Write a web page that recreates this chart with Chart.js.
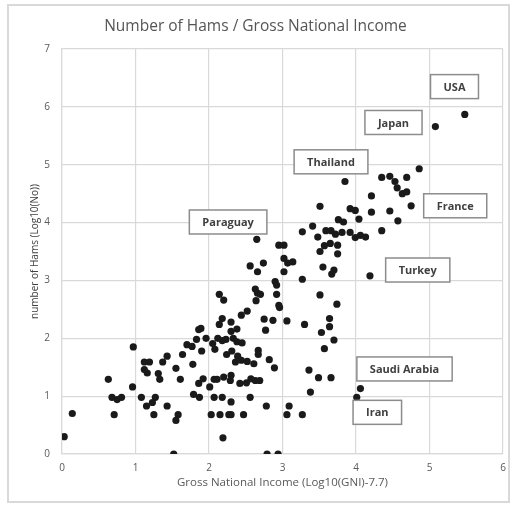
<!DOCTYPE html>
<html>
<head>
<meta charset="utf-8">
<script src="https://cdn.jsdelivr.net/npm/chart.js@4/dist/chart.umd.min.js"></script>
<style>
  html, body { margin: 0; padding: 0; background: #ffffff; }
  #wrap { width: 514px; height: 505px; position: relative; }
</style>
</head>
<body>
<div id="wrap"><canvas id="c" width="514" height="505"></canvas></div>
<script>
// Gross National Income (log10(GNI) - 7.7) per country
const gniLog = [
  0.03, 0.14, 0.63, 0.68, 0.75, 0.81, 0.71, 0.97, 0.96, 1.08,
  1.12, 1.19, 1.12, 1.16, 1.15, 1.23, 1.27, 1.25, 1.31, 1.33,
  1.37, 1.43, 1.43, 1.55, 1.61, 1.58, 1.55, 1.64, 1.70, 1.77,
  1.83, 1.78, 1.79, 1.86, 1.86, 1.52, 1.87,
  2.20, 2.64, 2.95, 2.96, 3.74, 2.52, 2.44, 2.18, 2.14, 2.30,
  2.30, 2.38, 2.75, 2.87, 2.77, 3.06, 3.30, 3.64, 3.64, 3.53,
  3.70, 3.57, 1.89, 1.96, 2.05, 2.12, 2.18, 2.23, 2.08, 1.90,
  2.33, 2.38, 2.45, 2.31, 2.24, 2.39, 2.36, 2.44, 2.52, 2.61,
  2.67, 2.67, 2.82, 2.89, 1.92, 2.01, 2.07, 2.11, 2.20, 2.30,
  2.29, 2.42, 2.51, 2.57, 2.63, 2.69, 2.07, 2.18, 2.30, 2.56,
  3.36, 3.49, 3.66, 3.38, 2.78, 3.09, 2.03, 2.15, 2.27, 2.30,
  2.47, 3.06, 3.27, 2.19, 2.79, 2.94,
  2.65, 2.95, 3.02, 3.02, 3.07, 3.14, 2.56, 2.74, 2.66, 3.02,
  3.27, 3.41, 3.51, 3.48, 3.59, 3.66, 3.72, 3.76, 3.57, 3.65,
  3.75, 3.51, 3.75, 3.55, 3.70, 3.67, 3.27, 2.90, 2.92, 2.14,
  2.63, 2.66, 2.70, 2.92, 3.51,
  3.85, 4.86, 4.35, 4.46, 4.53, 4.69, 4.56, 4.63, 4.69, 4.21,
  4.75, 3.92, 3.99, 4.21, 4.46, 4.04, 4.57, 3.83, 3.81, 3.92,
  3.99, 4.06, 4.13, 4.35, 4.19, 5.48, 5.08, 4.06, 4.01
];

// Number of amateur radio operators (log10(No)) per country
const hamsLog = [
  0.30, 0.70, 1.29, 0.98, 0.94, 0.98, 0.68, 1.85, 1.16, 0.98,
  1.59, 1.59, 1.46, 1.40, 0.83, 0.89, 0.98, 0.68, 1.39, 1.29,
  1.59, 1.69, 0.83, 1.48, 1.29, 0.68, 0.58, 1.72, 1.89, 1.86,
  1.98, 1.55, 1.03, 2.15, 1.22, 0.00, 0.98,
  2.66, 2.65, 2.57, 2.53, 2.59, 2.47, 2.40, 2.34, 2.24, 2.28,
  2.12, 2.16, 2.33, 2.31, 2.14, 2.30, 2.24, 2.34, 2.20, 2.10,
  1.97, 1.82, 2.17, 2.00, 1.91, 2.00, 1.96, 1.98, 1.81, 1.78,
  2.00, 1.94, 1.92, 1.78, 1.72, 1.69, 1.59, 1.62, 1.60, 1.56,
  1.79, 1.72, 1.63, 1.49, 1.30, 1.16, 1.29, 1.29, 1.33, 1.36,
  1.27, 1.22, 1.23, 1.30, 1.27, 1.27, 0.98, 0.98, 0.90, 0.98,
  1.45, 1.32, 1.32, 1.07, 0.83, 0.83, 0.68, 0.68, 0.68, 0.68,
  0.68, 0.68, 0.68, 0.28, 0.00, 0.00,
  3.71, 3.61, 3.61, 3.38, 3.30, 3.32, 3.25, 3.30, 3.15, 3.15,
  3.84, 3.94, 4.28, 3.75, 3.86, 3.86, 3.80, 4.05, 3.60, 3.64,
  3.61, 3.50, 3.46, 3.23, 3.18, 3.11, 3.02, 2.98, 2.92, 2.76,
  2.85, 2.78, 2.76, 2.76, 2.75,
  4.71, 4.93, 4.78, 4.80, 4.71, 4.78, 4.60, 4.50, 4.53, 4.46,
  4.29, 4.24, 4.21, 4.18, 4.20, 4.06, 4.03, 4.01, 3.83, 3.83,
  3.74, 3.78, 3.75, 3.86, 3.08, 5.87, 5.66, 1.13, 0.98
];

const xTicks = [0, 1, 2, 3, 4, 5, 6];
const yTicks = [0, 1, 2, 3, 4, 5, 6, 7];

// Named countries and where their callout box sits (in axis units)
const calloutNames = ['USA', 'Japan', 'Thailand', 'Paraguay', 'France', 'Turkey', 'Saudi Arabia', 'Iran'];
const calloutGni   = [5.34, 4.51, 3.66, 2.26, 5.35, 4.84, 4.66, 4.29];
const calloutHams  = [6.35, 5.73, 5.05, 4.01, 4.29, 3.18, 1.47, 0.72];

const points = gniLog.map((x, i) => ({ x: x, y: hamsLog[i] }));

const FONT = '"Open Sans", "Liberation Sans", sans-serif';

// Light grey frame around the whole chart
const framePlugin = {
  id: 'frame',
  beforeDraw(chart) {
    const ctx = chart.ctx;
    ctx.save();
    ctx.fillStyle = '#ffffff';
    ctx.fillRect(0, 0, chart.width, chart.height);
    ctx.strokeStyle = '#d9d9d9';
    ctx.lineWidth = 2;
    ctx.strokeRect(8, 5, 501, 497);
    ctx.restore();
  }
};

// Boxed country names placed with the chart's own scales
const calloutPlugin = {
  id: 'callouts',
  afterDatasetsDraw(chart) {
    const ctx = chart.ctx;
    const xs = chart.scales.x, ys = chart.scales.y;
    ctx.save();
    ctx.font = 'bold 11px ' + FONT;
    ctx.textAlign = 'center';
    ctx.textBaseline = 'middle';
    calloutNames.forEach((name, i) => {
      const cx = xs.getPixelForValue(calloutGni[i]);
      const cy = ys.getPixelForValue(calloutHams[i]);
      const w = ctx.measureText(name).width + 26;
      const h = 24;
      ctx.fillStyle = '#ffffff';
      ctx.fillRect(cx - w / 2, cy - h / 2, w, h);
      ctx.strokeStyle = '#8c8c8c';
      ctx.lineWidth = 1.5;
      ctx.strokeRect(cx - w / 2, cy - h / 2, w, h);
      ctx.fillStyle = '#404040';
      ctx.fillText(name, cx, cy + 1);
    });
    ctx.restore();
  }
};

new Chart(document.getElementById('c'), {
  type: 'scatter',
  data: {
    datasets: [{
      data: points,
      backgroundColor: '#1a1a1a',
      borderColor: '#1a1a1a',
      borderWidth: 0,
      pointRadius: 3.6,
      pointHoverRadius: 3.6
    }]
  },
  options: {
    responsive: false,
    animation: false,
    devicePixelRatio: 1,
    layout: { padding: { left: 8, right: 11, top: 5, bottom: 8 } },
    plugins: {
      legend: { display: false },
      tooltip: { enabled: false },
      title: {
        display: true,
        text: 'Number of Hams / Gross National Income',
        color: '#555555',
        font: { family: FONT, size: 15.5, weight: 'normal', lineHeight: 1.2 },
        padding: { top: 12, bottom: 13.4 }
      }
    },
    scales: {
      x: {
        type: 'linear',
        min: 0, max: 6,
        afterBuildTicks(s) { s.ticks = xTicks.map(v => ({ value: v })); },
        afterFit(s) { s.height = 43; },
        grid: { color: '#d9d9d9', lineWidth: 1.2, drawTicks: false },
        border: { color: '#d9d9d9', width: 1.2 },
        ticks: { color: '#595959', font: { family: FONT, size: 10 }, padding: 8 },
        title: {
          display: true,
          text: 'Gross National Income (Log10(GNI)-7.7)',
          color: '#595959',
          font: { family: FONT, size: 11.5, lineHeight: 1.2 },
          padding: { top: 0, bottom: 7 }
        }
      },
      y: {
        type: 'linear',
        min: 0, max: 7,
        afterBuildTicks(s) { s.ticks = yTicks.map(v => ({ value: v })); },
        afterFit(s) { s.width = 54; },
        grid: { color: '#d9d9d9', lineWidth: 1.2, drawTicks: false },
        border: { color: '#d9d9d9', width: 1.2 },
        ticks: { color: '#595959', font: { family: FONT, size: 10 }, padding: 12 },
        title: {
          display: true,
          text: 'number of Hams (Log10(No))',
          color: '#404040',
          font: { family: FONT, size: 10, lineHeight: 1.2 },
          padding: { top: 21, bottom: 0 }
        }
      }
    }
  },
  plugins: [framePlugin, calloutPlugin]
});
</script>
</body>
</html>
